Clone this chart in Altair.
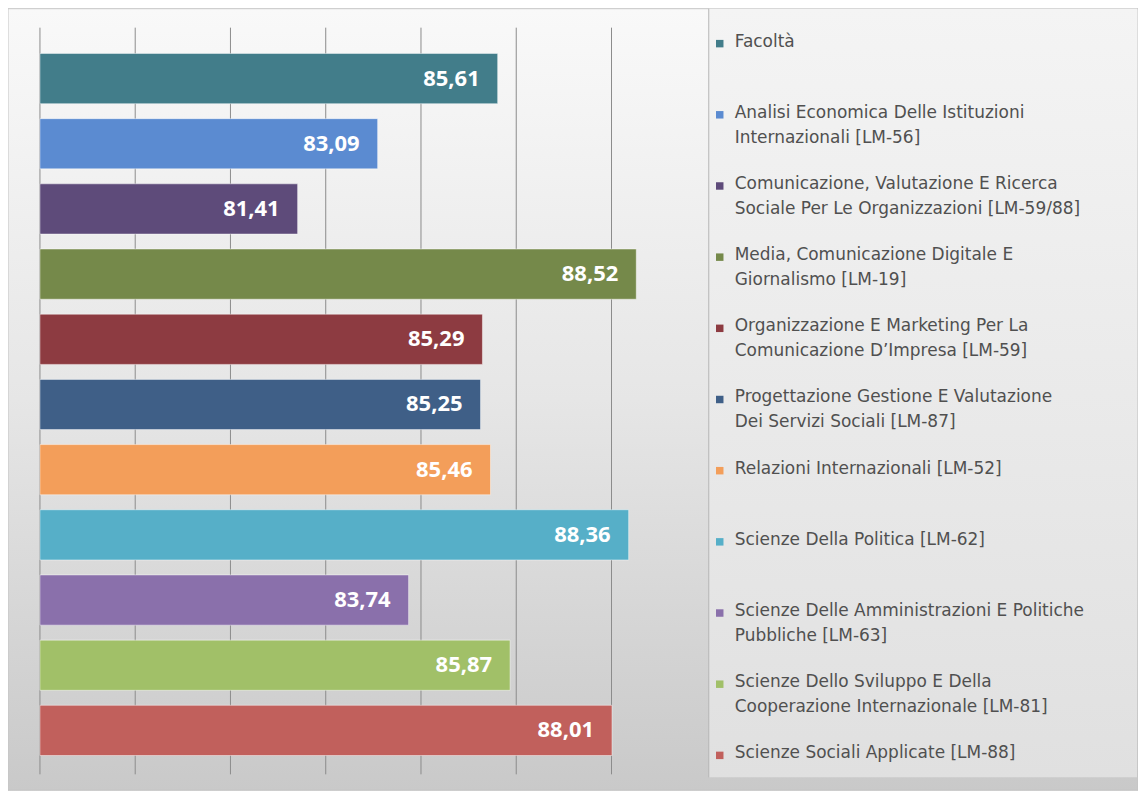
import altair as alt
import pandas as pd

categories = [
    "Facoltà",
    "Analisi Economica Delle Istituzioni Internazionali [LM-56]",
    "Comunicazione, Valutazione E Ricerca Sociale Per Le Organizzazioni [LM-59/88]",
    "Media, Comunicazione Digitale E Giornalismo [LM-19]",
    "Organizzazione E Marketing Per La Comunicazione D’Impresa [LM-59]",
    "Progettazione Gestione E Valutazione Dei Servizi Sociali [LM-87]",
    "Relazioni Internazionali [LM-52]",
    "Scienze Della Politica [LM-62]",
    "Scienze Delle Amministrazioni E Politiche Pubbliche [LM-63]",
    "Scienze Dello Sviluppo E Della Cooperazione Internazionale [LM-81]",
    "Scienze Sociali Applicate [LM-88]",
]
legend_labels = [
    "Facoltà",
    "Analisi Economica Delle Istituzioni\nInternazionali [LM-56]",
    "Comunicazione, Valutazione E Ricerca\nSociale Per Le Organizzazioni [LM-59/88]",
    "Media, Comunicazione Digitale E\nGiornalismo [LM-19]",
    "Organizzazione E Marketing Per La\nComunicazione D’Impresa [LM-59]",
    "Progettazione Gestione E Valutazione\nDei Servizi Sociali [LM-87]",
    "Relazioni Internazionali [LM-52]",
    "Scienze Della Politica [LM-62]",
    "Scienze Delle Amministrazioni E Politiche\nPubbliche [LM-63]",
    "Scienze Dello Sviluppo E Della\nCooperazione Internazionale [LM-81]",
    "Scienze Sociali Applicate [LM-88]",
]
values = [85.61, 83.09, 81.41, 88.52, 85.29, 85.25, 85.46, 88.36, 83.74, 85.87, 88.01]
value_labels = ["85,61", "83,09", "81,41", "88,52", "85,29", "85,25", "85,46", "88,36", "83,74", "85,87", "88,01"]
colors = ["#427d8a", "#5b8bd1", "#5e4b7a", "#75894a", "#8d3b41", "#3f5f87",
          "#f39e5a", "#56afc8", "#8a70ab", "#a1c068", "#c1605c"]
grid_ticks = [76, 78, 80, 82, 84, 86, 88]
axis_min = 76

df = pd.DataFrame({"cat": categories, "leg": legend_labels, "val": values, "lab": value_labels})
grid_df = pd.DataFrame({"t": grid_ticks})
one = pd.DataFrame({"a": [0]})

W, H = 1132, 784
xscale = alt.Scale(domain=[76, 90], range=[32, 700], nice=False, zero=False)
yscale = alt.Scale(type="band", domain=categories, range=[37.35, 755.65], paddingInner=0.23, paddingOuter=0.115)
lscale = alt.Scale(type="point", domain=categories, range=[35, 748], padding=0)
cscale = alt.Scale(domain=categories, range=colors)

bg = alt.Chart(one).mark_rect(
    fill={"gradient": "linear", "x1": 0, "y1": 0, "x2": 0, "y2": 1,
          "stops": [{"offset": 0, "color": "#f9f9f9"}, {"offset": 0.5, "color": "#e6e6e6"},
                    {"offset": 1, "color": "#c9c9c9"}]},
    stroke="#c4c4c4", strokeWidth=1,
).encode(x=alt.value(0), x2=alt.value(W), y=alt.value(0), y2=alt.value(H - 1))

grid = alt.Chart(grid_df).mark_rule(color="#8c8c8c", strokeWidth=1).encode(
    x=alt.X("t:Q", scale=xscale, axis=None),
    y=alt.value(19), y2=alt.value(767),
)

bars = alt.Chart(df).mark_bar(stroke="#ffffff", strokeOpacity=0.45, strokeWidth=1).encode(
    x=alt.X("val:Q", scale=xscale, axis=None),
    x2=alt.datum(axis_min),
    y=alt.Y("cat:N", scale=yscale, axis=None),
    color=alt.Color("cat:N", scale=cscale, legend=None),
)

labels = alt.Chart(df).mark_text(
    align="right", baseline="middle", dx=-18, color="#ffffff",
    font="Open Sans", fontSize=22, fontWeight="bold",
).encode(
    x=alt.X("val:Q", scale=xscale, axis=None),
    y=alt.Y("cat:N", scale=yscale, axis=None),
    text="lab:N",
)

panel = alt.Chart(one).mark_rect(
    fill={"gradient": "linear", "x1": 0, "y1": 0, "x2": 0, "y2": 1,
          "stops": [{"offset": 0, "color": "#f4f4f4"}, {"offset": 1, "color": "#e0e0e0"}]},
).encode(x=alt.value(702), x2=alt.value(W - 1), y=alt.value(0), y2=alt.value(770))

panel_edge = alt.Chart(one).mark_rule(color="#b5b5b5", strokeWidth=1).encode(
    x=alt.value(702), y=alt.value(0), y2=alt.value(770)
)

leg_sq = alt.Chart(df).mark_square(size=56, opacity=1).encode(
    x=alt.value(713),
    y=alt.Y("cat:N", scale=lscale, axis=None),
    color=alt.Color("cat:N", scale=cscale, legend=None),
)

leg_txt = alt.Chart(df).mark_text(
    align="left", baseline="top", dy=-10, lineBreak="\n", lineHeight=25,
    font="DejaVu Sans", fontSize=17, color="#505050",
).encode(
    x=alt.value(728),
    y=alt.Y("cat:N", scale=lscale, axis=None),
    text="leg:N",
)

chart = alt.layer(bg, grid, bars, labels, panel, panel_edge, leg_sq, leg_txt).resolve_scale(
    y="independent"
).properties(
    width=W, height=H, autosize=alt.AutoSizeParams(type="none"), padding=0, background="#ffffff"
).configure_view(stroke=None)

chart.save("out.html", embed_options={"renderer": "svg", "actions": False})
